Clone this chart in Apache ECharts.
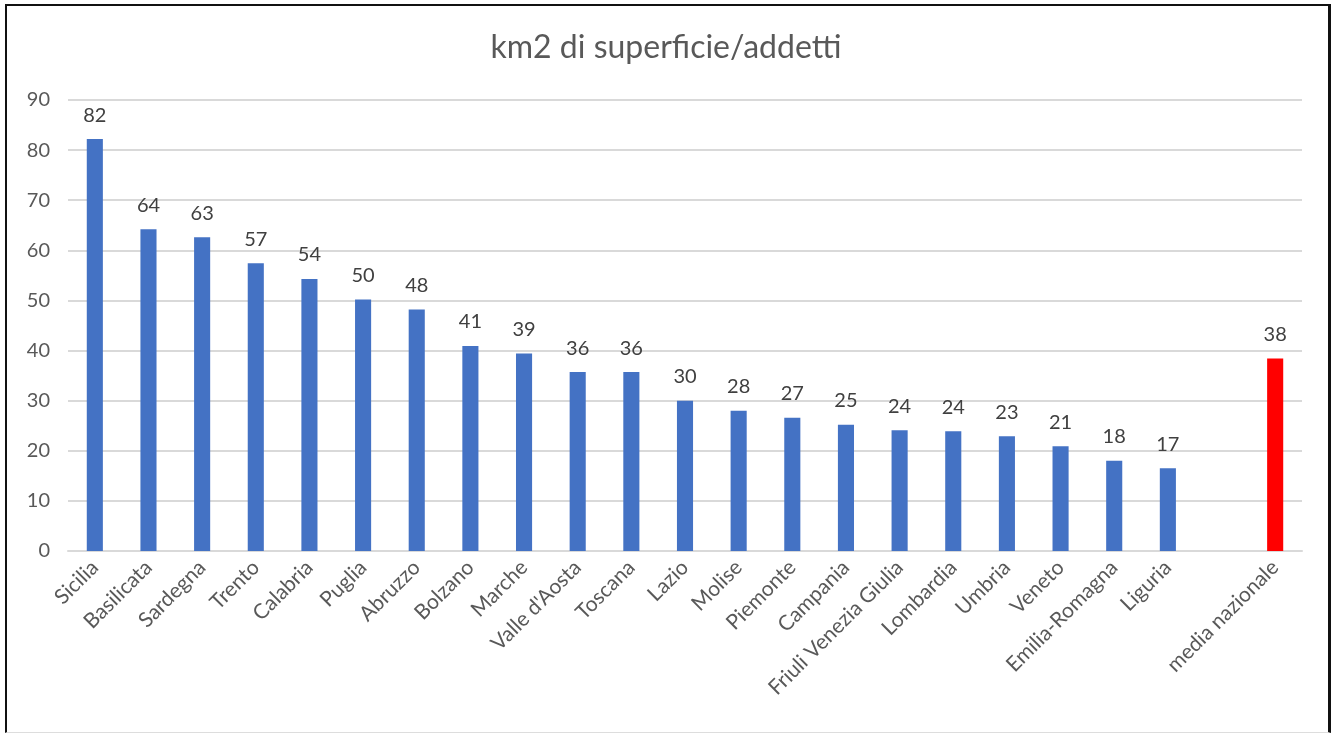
<!DOCTYPE html>
<html>
<head>
<meta charset="utf-8">
<script src="https://cdn.jsdelivr.net/npm/echarts@6/dist/echarts.min.js"></script>
<style>
  html, body { margin: 0; padding: 0; background: #fff; }
  #frame { position: absolute; left: 5px; top: 4px; width: 1321px; height: 726px;
           border-left: 2px solid #111; border-top: 2px solid #111; border-right: 3px solid #111;
           border-bottom: 1px solid #ddd; box-sizing: content-box; }
  #chart { position: absolute; left: 0; top: 0; width: 1332px; height: 733px; }
</style>
</head>
<body>
<div id="frame"></div>
<div id="chart"></div>
<script>
const categories = ["Sicilia","Basilicata","Sardegna","Trento","Calabria","Puglia","Abruzzo","Bolzano","Marche","Valle d'Aosta","Toscana","Lazio","Molise","Piemonte","Campania","Friuli Venezia Giulia","Lombardia","Umbria","Veneto","Emilia-Romagna","Liguria","","media nazionale"];
const values = [82.2,64.2,62.6,57.4,54.3,50.2,48.2,40.9,39.4,35.7,35.7,30.0,28.0,26.6,25.2,24.1,23.9,22.9,20.9,18.0,16.5,null,38.4];
const highlightCategory = "media nazionale";
const yTicks = [0,10,20,30,40,50,60,70,80,90];

const chart = echarts.init(document.getElementById('chart'), null, {renderer: 'canvas'});
const fontFamily = "Lato, 'Open Sans', sans-serif";
const dataItems = values.map((v, i) => ({
  value: v,
  itemStyle: { color: categories[i] === highlightCategory ? '#FF0000' : '#4472C4' }
}));

chart.setOption({
  animation: false,
  title: {
    text: 'km2 di superficie/addetti',
    left: 'center', top: 27,
    textStyle: { fontFamily, fontSize: 32, fontWeight: 'normal', color: '#595959' }
  },
  grid: { left: 68, right: 30, top: 100, bottom: 182, containLabel: false },
  xAxis: {
    type: 'category',
    data: categories,
    axisLine: { show: true, lineStyle: { color: '#D9D9D9', width: 2 } },
    axisTick: { show: false },
    axisLabel: { rotate: 45, interval: 0, color: '#595959', fontFamily, fontSize: 21, margin: 13 }
  },
  yAxis: {
    type: 'value',
    min: yTicks[0], max: yTicks[yTicks.length - 1], interval: 10,
    axisLine: { show: false },
    axisTick: { show: false },
    axisLabel: { color: '#595959', fontFamily, fontSize: 20, margin: 18 },
    splitLine: { lineStyle: { color: '#D9D9D9', width: 2 } }
  },
  series: [{
    type: 'bar',
    data: dataItems,
    barWidth: '30%',
    label: {
      show: true, position: 'top', distance: 14,
      color: '#404040', fontFamily, fontSize: 20,
      formatter: p => Math.round(p.value)
    }
  }]
});
</script>
</body>
</html>
